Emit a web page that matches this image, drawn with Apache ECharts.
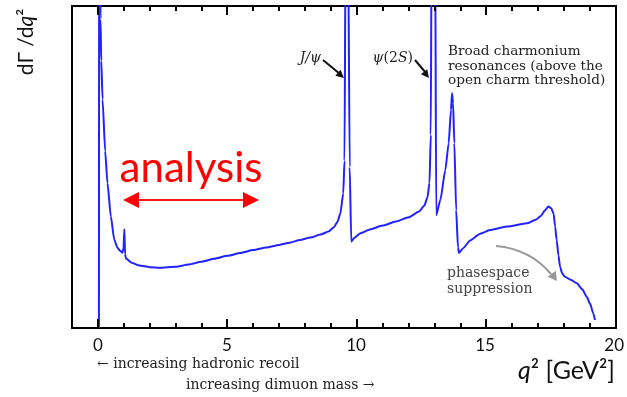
<!DOCTYPE html>
<html>
<head>
<meta charset="utf-8">
<script src="https://cdn.jsdelivr.net/npm/echarts@6/dist/echarts.min.js"></script>
<style>
  html, body { margin: 0; padding: 0; background: #fff; }
  #chart { width: 627px; height: 397px; }
</style>
</head>
<body>
<div id="chart"></div>
<script>
// Differential decay rate dΓ/dq² (arbitrary units) versus q² in GeV².
// Narrow resonance peaks run off the top of the frame and are clipped.
const q2 = [
  0.04, 0.06, 0.10, 0.13, 0.18, 0.28, 0.37, 0.50, 0.63, 0.75, 0.85, 0.95, 0.99, 1.02, 1.05, 1.08,
  1.3, 1.6, 2.0, 2.4, 3.0, 3.5, 4.0, 4.5, 5.0, 5.5, 6.0, 6.5, 7.0, 7.4, 7.8, 8.2, 8.6, 8.9, 9.1, 9.25, 9.36, 9.47, 9.52,
  9.56, 9.61, 9.66, 9.72, 9.78, 9.9, 10.13, 10.5, 11.0, 11.5, 12.0, 12.4, 12.6, 12.72, 12.8, 12.85,
  12.88, 12.95, 13.02, 13.06, 13.22, 13.41, 13.54, 13.63, 13.67, 13.71, 13.76, 13.83, 13.9, 13.94,
  14.1, 14.37, 14.76, 15.14, 15.79, 16.56, 16.9, 17.1, 17.25, 17.39, 17.5, 17.59, 17.65, 17.71,
  17.78, 17.84, 17.92, 18.03, 18.25, 18.49, 18.7, 18.87, 19.0, 19.12, 19.19
];
const rate = [
  0, 300, 96, 83, 71, 55, 45, 34.6, 27.5, 25, 24, 23.4, 25, 30.7, 23, 21.6,
  20.3, 19.4, 18.9, 18.7, 19.0, 19.7, 20.6, 21.5, 22.4, 23.3, 24.2, 25.0, 25.8, 26.5, 27.3, 28.1, 29.0, 30.0, 31.2, 33.0, 35.6, 41.8, 52,
  120, 300, 120, 50, 26.8, 28.0, 29.4, 30.6, 31.8, 33.1, 34.4, 36.2, 38, 40.5, 45, 60,
  120, 300, 120, 35, 39.8, 49, 57.4, 67.7, 72.9, 69.8, 57.4, 36.6, 25, 23.3,
  24.8, 27.2, 29.3, 30.4, 31.5, 32.5, 33.6, 34.8, 36.5, 37.7, 37.2, 35.6, 31.5, 27.3,
  22.5, 19.0, 17.0, 15.9, 15.0, 13.9, 12.0, 9.7, 7.5, 4.6, 2.5
];
const xTickLabels = [0, 5, 10, 15, 20];
const xMinorStep = 1;

const chart = echarts.init(document.getElementById('chart'), null, { renderer: 'canvas' });

const SANS = 'Lato, "Open Sans", sans-serif';
const SERIF = '"DejaVu Serif", "Liberation Serif", serif';

// Frame: x from -1 to 20 across 72..616 px; tick labels live on a second grid spanning 0..20.
const W = 627, H = 397;
const FRAME_LEFT = 72, FRAME_RIGHT = 11, FRAME_TOP = 6, FRAME_BOTTOM = 69;
const X_MIN = -1, X_MAX = 20;
const UNIT = (W - FRAME_LEFT - FRAME_RIGHT) / (X_MAX - X_MIN);
const FRAME_LINE = { show: true, onZero: false, lineStyle: { color: '#000', width: 2 } };

// Same linear mapping as the frame's x axis, used to place the inward tick marks
function xToPx(v) { return FRAME_LEFT + (v - X_MIN) * UNIT; }

// Plain frame edges around the plot area
function frameAxis(position, isX) {
  return {
    type: 'value', gridIndex: 0, position: position,
    min: isX ? X_MIN : 0, max: isX ? X_MAX : 100,
    axisLine: FRAME_LINE, axisTick: { show: false }, axisLabel: { show: false },
    splitLine: { show: false }, minorTick: { show: false }
  };
}

// Tick label axis under the frame
function labelAxis(position, showLabels) {
  return {
    type: 'value', gridIndex: 1, position: position, min: 0, max: 20, interval: 5,
    axisLine: { show: false, onZero: false },
    splitLine: { show: false },
    axisTick: { show: false },
    axisLabel: {
      show: showLabels, margin: 9, color: '#111', fontFamily: SANS, fontSize: 17,
      formatter: v => (xTickLabels.indexOf(v) >= 0 ? String(v) : '')
    }
  };
}

function arrowHead(tipX, tipY, fromX, fromY, len, half, color) {
  const dx = tipX - fromX, dy = tipY - fromY;
  const d = Math.sqrt(dx * dx + dy * dy);
  const ux = dx / d, uy = dy / d;
  const bx = tipX - ux * len, by = tipY - uy * len;
  return {
    type: 'polygon',
    shape: { points: [[tipX, tipY], [bx - uy * half, by + ux * half], [bx + uy * half, by - ux * half]] },
    style: { fill: color }
  };
}

function txt(x, y, text, font, fill, align, extra) {
  return {
    type: 'text', x: x, y: y,
    style: Object.assign({ text: text, font: font, fill: fill,
      align: align, verticalAlign: 'middle', textAlign: align, textVerticalAlign: 'middle' }, extra || {})
  };
}

const graphics = [
  // y-axis title
  { type: 'text', x: 26, y: 42, rotation: Math.PI / 2,
    style: { text: '{r|dΓ /d}{i|q}{r|²}', align: 'center', verticalAlign: 'middle',
             textAlign: 'center', textVerticalAlign: 'middle',
             rich: { r: { fontFamily: SANS, fontSize: 21, fill: '#111' },
                     i: { fontFamily: SANS, fontSize: 21, fontStyle: 'italic', fill: '#111' } } } },
  // x-axis title
  { type: 'text', x: 615, y: 371,
    style: { text: '{i|q}{r|² [GeV²]}', align: 'right', verticalAlign: 'middle',
             textAlign: 'right', textVerticalAlign: 'middle',
             rich: { r: { fontFamily: SANS, fontSize: 25, fill: '#111' },
                     i: { fontFamily: SANS, fontSize: 25, fontStyle: 'italic', fill: '#111' } } } },
  // direction notes below the axis
  txt(97, 364, '← increasing hadronic recoil', '14px ' + SERIF, '#222', 'left'),
  txt(186, 385, 'increasing dimuon mass →', '14px ' + SERIF, '#222', 'left'),
  // J/psi label and arrow
  txt(321, 58, 'J/ψ', 'italic 14px ' + SERIF, '#222', 'right'),
  { type: 'line', shape: { x1: 323, y1: 60, x2: 340, y2: 74 }, style: { stroke: '#111', lineWidth: 2 } },
  arrowHead(344, 78, 323, 60, 8, 4, '#111'),
  // psi(2S) label and arrow
  { type: 'text', x: 413, y: 58,
    style: { text: '{i|ψ}{r|(2}{i|S}{r|)}', align: 'right', verticalAlign: 'middle',
             textAlign: 'right', textVerticalAlign: 'middle',
             rich: { r: { fontFamily: SERIF, fontSize: 14, fill: '#222' },
                     i: { fontFamily: SERIF, fontSize: 14, fontStyle: 'italic', fill: '#222' } } } },
  { type: 'line', shape: { x1: 415, y1: 60, x2: 426, y2: 73 }, style: { stroke: '#111', lineWidth: 2 } },
  arrowHead(429, 78, 415, 60, 8, 4, '#111'),
  // broad resonance note
  txt(448, 66, 'Broad charmonium\nresonances (above the\nopen charm threshold)', '13.6px ' + SERIF, '#222', 'left',
      { lineHeight: 14.5 }),
  // phasespace note with curved grey arrow
  txt(447, 281, 'phasespace\nsuppression', '14px ' + SERIF, '#444', 'left', { lineHeight: 16 }),
  { type: 'bezierCurve', shape: { x1: 496, y1: 246, x2: 551, y2: 274, cpx1: 530, cpy1: 249 },
    style: { stroke: '#999', lineWidth: 2, fill: null } },
  arrowHead(557, 281, 549, 270, 9, 5, '#999'),
  // analysis window
  txt(191, 168, 'analysis', '42px ' + SANS, '#ff0000', 'center'),
  { type: 'line', shape: { x1: 136, y1: 200, x2: 246, y2: 200 }, style: { stroke: '#ff1a1a', lineWidth: 2 } },
  arrowHead(123, 200, 140, 200, 16, 8, '#ff0000'),
  arrowHead(259, 200, 240, 200, 16, 8, '#ff0000')
];

// Inward tick marks on the bottom and top frame edges: long at labelled values, short at each unit
const yBottom = H - FRAME_BOTTOM, yTop = FRAME_TOP;
for (let v = 0; v <= 20; v += xMinorStep) {
  const px = Math.round(xToPx(v));
  const len = xTickLabels.indexOf(v) >= 0 ? 9 : 5;
  graphics.push({ type: 'line', z: 10, shape: { x1: px, y1: yBottom, x2: px, y2: yBottom - len },
                  style: { stroke: '#000', lineWidth: 2 } });
  graphics.push({ type: 'line', z: 10, shape: { x1: px, y1: yTop, x2: px, y2: yTop + len },
                  style: { stroke: '#000', lineWidth: 2 } });
}

const option = {
  backgroundColor: '#fff',
  animation: false,
  grid: [
    { left: FRAME_LEFT, right: FRAME_RIGHT, top: FRAME_TOP, bottom: FRAME_BOTTOM, show: false },
    { left: FRAME_LEFT + UNIT, right: FRAME_RIGHT, top: FRAME_TOP, bottom: FRAME_BOTTOM, show: false }
  ],
  xAxis: [
    frameAxis('bottom', true),
    frameAxis('top', true),
    labelAxis('bottom', true),
    labelAxis('top', false)
  ],
  yAxis: [
    frameAxis('left', false),
    frameAxis('right', false),
    { type: 'value', gridIndex: 1, min: 0, max: 100, show: false }
  ],
  series: [{
    type: 'line',
    xAxisIndex: 0, yAxisIndex: 0,
    data: q2.map((q, i) => [q, rate[i]]),
    showSymbol: false,
    clip: true,
    smooth: 0.2,
    smoothMonotone: 'x',
    lineStyle: { color: '#2222ff', width: 2 }
  }],
  graphic: graphics
};

chart.setOption(option);
</script>
</body>
</html>
